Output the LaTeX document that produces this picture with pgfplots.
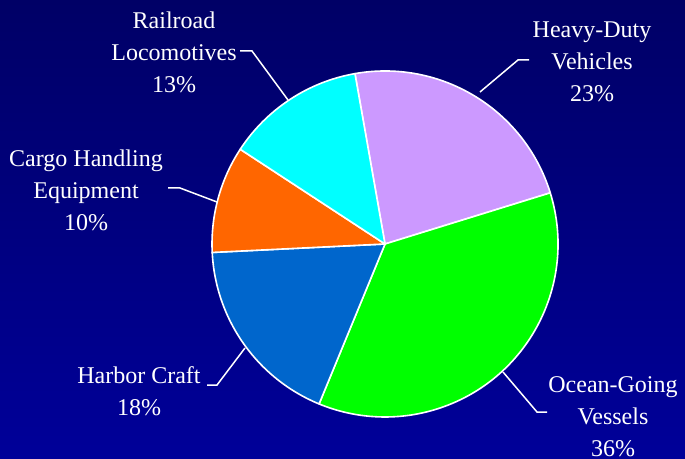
\documentclass[border=0pt]{standalone}
\usepackage{pgfplots}
\pgfplotsset{compat=1.18}
\usepackage{fontspec}
\setmainfont{Liberation Serif}
\definecolor{bgtop}{RGB}{0,0,102}
\definecolor{bgbot}{RGB}{0,0,153}
\definecolor{cheavy}{RGB}{204,153,255}
\definecolor{cocean}{RGB}{0,255,0}
\definecolor{charbor}{RGB}{0,102,204}
\definecolor{ccargo}{RGB}{255,102,0}
\definecolor{crail}{RGB}{0,255,255}
% shares in percent: Heavy-Duty 23, Ocean-Going 36, Harbor Craft 18, Cargo 10, Railroad 13
\newcommand{\pieslice}[3]{% color, start angle, end angle
  \filldraw[fill=#1, draw=white, line width=1.6pt, line join=round]
    (axis cs:385,214) -- ++(#2:173pt) arc[start angle=#2, end angle=#3, radius=173pt] -- cycle;}
\begin{document}
\begin{tikzpicture}
\begin{axis}[
  scale only axis, width=685pt, height=458pt,
  xmin=0, xmax=685, ymin=0, ymax=458,
  hide axis, clip=false,
]
\shade[top color=bgtop, bottom color=bgbot] (axis cs:0,0) rectangle (axis cs:685,458);
\pieslice{cheavy}{100}{100-3.6*23}
\pieslice{cocean}{100-3.6*23}{100-3.6*59}
\pieslice{charbor}{100-3.6*59}{100-3.6*77}
\pieslice{ccargo}{100-3.6*77}{100-3.6*87}
\pieslice{crail}{100-3.6*87}{100-3.6*100}
% leader lines
\addplot[white, line width=1.5pt, no marks] coordinates {(240,407) (252,407) (288,358)};
\addplot[white, line width=1.5pt, no marks] coordinates {(529,398) (518,398) (480,366)};
\addplot[white, line width=1.5pt, no marks] coordinates {(168,270) (180,270) (217,256)};
\addplot[white, line width=1.5pt, no marks] coordinates {(207,73) (217,73) (245,110)};
\addplot[white, line width=1.5pt, no marks] coordinates {(503,86) (537,46) (547,46)};
% labels
\begin{scope}[every node/.style={text=white, align=center, font={\fontsize{24}{32}\selectfont}, inner sep=0pt}]
\node at (axis cs:174,406) {Railroad\\Locomotives\\13\%};
\node at (axis cs:592,396) {Heavy-Duty\\Vehicles\\23\%};
\node at (axis cs:86,268) {Cargo Handling\\Equipment\\10\%};
\node at (axis cs:139,67) {Harbor Craft\\18\%};
\node at (axis cs:613,41) {Ocean-Going\\Vessels\\36\%};
\end{scope}
\end{axis}
\end{tikzpicture}
\end{document}
